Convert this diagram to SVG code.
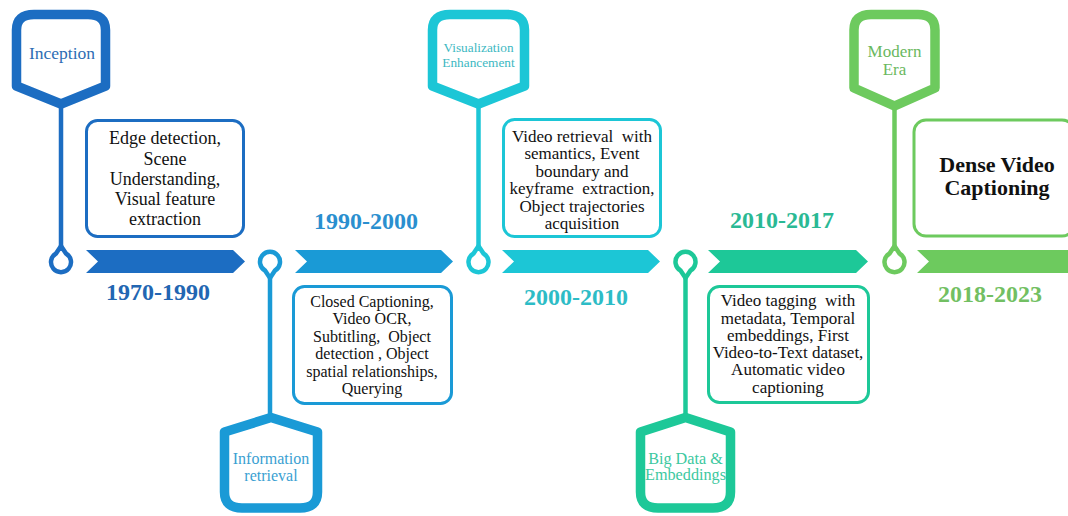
<svg xmlns="http://www.w3.org/2000/svg" width="1068" height="516" viewBox="0 0 1068 516">
<style>
.hex{fill:#fff;stroke-width:9.5;stroke-linejoin:round}
.box{fill:#fff;stroke-width:3}
.stem{stroke-width:4.5;fill:none;stroke-linecap:butt}
.pin{fill:#fff;stroke-width:4.5}
.t{text-anchor:middle;fill:#111}
.yr{font-weight:bold;font-size:24px;text-anchor:middle}
.hl{text-anchor:middle}
.c1{stroke:#1c6dc2}.f1{fill:#1c6dc2}
.c2{stroke:#1a9ad6}.f2{fill:#1a9ad6}
.c3{stroke:#1cc6d6}.f3{fill:#1cc6d6}
.c4{stroke:#1dc898}.f4{fill:#1dc898}
.c5{stroke:#6dca5e}.f5{fill:#6dca5e}
</style>
<rect width="1068" height="516" fill="#fff"/>

<g id="timeline">
<polygon class="f1" points="86,250 233,250 245,261.5 233,273 86,273 98,261.5"/>
<polygon class="f2" points="295,250 441,250 453,261.5 441,273 295,273 307,261.5"/>
<polygon class="f3" points="502,250 648,250 660,261.5 648,273 502,273 514,261.5"/>
<polygon class="f4" points="708,250 856,250 868,261.5 856,273 708,273 720,261.5"/>
<polygon class="f5" points="917,250 1070,250 1070,273 917,273 929,261.5"/>
</g>

<g id="connectors">
<line class="stem c1" x1="61" y1="104" x2="61" y2="250"/>
<line class="stem c2" x1="270" y1="274" x2="270" y2="418"/>
<line class="stem c3" x1="478.5" y1="104" x2="478.5" y2="250"/>
<line class="stem c4" x1="685.5" y1="274" x2="685.5" y2="418"/>
<line class="stem c5" x1="894.5" y1="106" x2="894.5" y2="250"/>
<path class="pin c1" d="M61,246 L66,253.5 A10,10 0 1 1 56,253.5 Z"/>
<path class="pin c2" d="M270,278 L275,270.5 A10,10 0 1 0 265,270.5 Z"/>
<path class="pin c3" d="M478.5,246 L483.5,253.5 A10,10 0 1 1 473.5,253.5 Z"/>
<path class="pin c4" d="M685.5,278 L690.5,270.5 A10,10 0 1 0 680.5,270.5 Z"/>
<path class="pin c5" d="M894.5,246 L899.5,253.5 A10,10 0 1 1 889.5,253.5 Z"/>
</g>

<g font-family="'Liberation Serif','Times New Roman',serif">
<g id="inception">
<path class="hex c1" d="M16.5,30 Q16.5,14.5 34,14.5 L88,14.5 Q105.5,14.5 105.5,30 L105.5,86 L61,104 L16.5,86 Z"/>
<text class="hl" x="62" y="59" font-size="17.5" fill="#2d6db4">Inception</text>
</g>

<g id="box-1970">
<rect class="box c1" x="86.5" y="120.5" width="157" height="116" rx="11"/>
<text class="t" font-size="18"><tspan x="165" y="144">Edge detection,</tspan><tspan x="165" y="164.5">Scene</tspan><tspan x="165" y="185">Understanding,</tspan><tspan x="165" y="205">Visual feature</tspan><tspan x="165" y="225">extraction</tspan></text>
<text class="yr" x="158" y="300" fill="#2266b2">1970-1990</text>
</g>

<g id="information-retrieval">
<path class="hex c2" d="M224.5,432 L271,417.5 L317.5,432 L317.5,492 Q317.5,508 300,508 L242,508 Q224.5,508 224.5,492 Z"/>
<text class="hl" font-size="16" fill="#3a9fd2"><tspan x="271" y="464">Information</tspan><tspan x="271" y="481">retrieval</tspan></text>
</g>

<g id="box-1990">
<rect class="box c2" x="293.5" y="286.5" width="158" height="117" rx="11"/>
<text class="t" font-size="16"><tspan x="372" y="306.5">Closed Captioning,</tspan><tspan x="372" y="324">Video OCR,</tspan><tspan x="372" y="341.5">Subtitling,&#160; Object</tspan><tspan x="372" y="359">detection , Object</tspan><tspan x="372" y="376.5">spatial relationships,</tspan><tspan x="372" y="394">Querying</tspan></text>
<text class="yr" x="366" y="229" fill="#2a8fcf">1990-2000</text>
</g>

<g id="visualization-enhancement">
<path class="hex c3" d="M432.5,30 Q432.5,14.5 450,14.5 L507,14.5 Q524.5,14.5 524.5,30 L524.5,86 L478.5,104 L432.5,86 Z"/>
<text class="hl" font-size="13.3" fill="#3cb8c2"><tspan x="478.5" y="52">Visualization</tspan><tspan x="478.5" y="67">Enhancement</tspan></text>
</g>

<g id="box-2000">
<rect class="box c3" x="503.5" y="119.5" width="157" height="117" rx="11"/>
<text class="t" font-size="17"><tspan x="582" y="141.5">Video retrieval&#160; with</tspan><tspan x="582" y="159">semantics, Event</tspan><tspan x="582" y="176.5">boundary and</tspan><tspan x="582" y="194">keyframe&#160; extraction,</tspan><tspan x="582" y="211.5">Object trajectories</tspan><tspan x="582" y="229">acquisition</tspan></text>
<text class="yr" x="576" y="305" fill="#2dbcc6">2000-2010</text>
</g>

<g id="big-data-embeddings">
<path class="hex c4" d="M640.5,432 L685.5,417.5 L730.5,432 L730.5,492 Q730.5,508 713,508 L658,508 Q640.5,508 640.5,492 Z"/>
<text class="hl" font-size="16.2" fill="#3cc8a0"><tspan x="685.5" y="463.5">Big Data &amp;</tspan><tspan x="685.5" y="480">Embeddings</tspan></text>
</g>

<g id="box-2010">
<rect class="box c4" x="708.5" y="286.5" width="160" height="116" rx="11"/>
<text class="t" font-size="17"><tspan x="788" y="306">Video tagging&#160; with</tspan><tspan x="788" y="323.5">metadata, Temporal</tspan><tspan x="788" y="340.5">embeddings, First</tspan><tspan x="788" y="357.5">Video-to-Text dataset,</tspan><tspan x="788" y="375">Automatic video</tspan><tspan x="788" y="392.5">captioning</tspan></text>
<text class="yr" x="782" y="228" fill="#2ab994">2010-2017</text>
</g>

<g id="modern-era">
<path class="hex c5" d="M854,30 Q854,14.5 871,14.5 L918,14.5 Q935,14.5 935,30 L935,88 L894.5,106 L854,88 Z"/>
<text class="hl" font-size="17" fill="#6ab85e"><tspan x="894.5" y="57">Modern</tspan><tspan x="894.5" y="75">Era</tspan></text>
</g>

<g id="box-2018">
<rect class="box c5" x="914" y="120" width="160" height="116" rx="12" stroke-width="4"/>
<text class="t" font-size="22" font-weight="bold"><tspan x="997" y="171.5">Dense Video</tspan><tspan x="997" y="195">Captioning</tspan></text>
<text class="yr" x="990" y="302" fill="#72bf62">2018-2023</text>
</g>
</g>
</svg>
